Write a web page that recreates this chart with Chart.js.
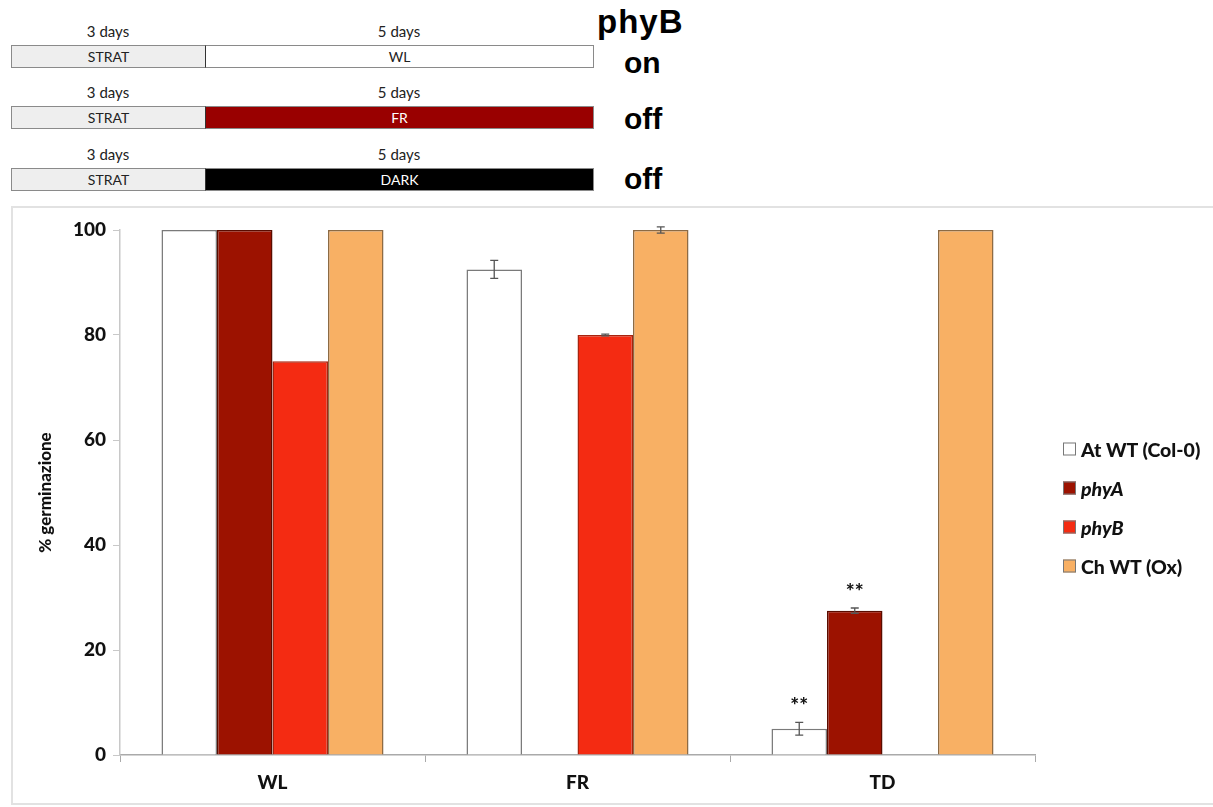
<!DOCTYPE html><html lang="it">
<head>
  <meta charset="UTF-8"/>
  <title>% germinazione</title>
  <script src="https://cdn.jsdelivr.net/npm/chart.js"></script>
  <style>
    *{box-sizing:border-box;margin:0;padding:0}
    body{background:#fff;width:1213px;height:807px;position:relative;overflow:hidden;font-family:Lato,sans-serif}
    .days{position:absolute;font-size:15px;color:#222;transform:translate(-50%,-50%);white-space:nowrap}
    .bar{position:absolute;height:23px;border:1px solid #8a8a8a;font-size:14px;line-height:21px;text-align:center;color:#222}
    .phy{position:absolute;font-family:'Liberation Sans',Arial,sans-serif;font-weight:700;color:#000;transform:translateY(-50%);white-space:nowrap}
    #frame{position:absolute;left:11px;top:206px;width:1210px;height:599px;border:2px solid #e2e2e2}
    #wrap{position:absolute;left:13px;top:208px;width:1199px;height:595px}
    #legend .item{position:absolute;left:1063px;transform:translateY(-50%);display:flex;align-items:center;font-weight:900;font-size:19.5px;color:#111;white-space:nowrap}
    #legend .sw{width:13px;height:13px;border:1.5px solid #777;margin-right:5px}
  </style>
</head>
<body>
  <div id="timeline"></div>
  <div id="frame"></div>
  <div id="wrap"><canvas id="chart"></canvas></div>
  <div id="legend"></div>
  <script>
    // schematic on top
    const tlTreatments = ['WL','FR','DARK'];
    const tlColors = ['#ffffff','#990000','#000000'];
    const tlText = ['#222','#fff','#fff'];
    const phyBState = ['on','off','off'];
    const tlDurations = ['3 days','5 days'];

    // chart data
    const categories = ['WL','FR','TD'];
    const seriesNames = ['At WT (Col-0)','phyA','phyB','Ch WT (Ox)'];
    const seriesItalic = [false,true,true,false];
    const seriesColors = ['#ffffff','#9c1200','#f42b12','#f8b064'];
    const seriesBorders = ['#7a7a7a','#5a0c00','#a8240f','#8c6a44'];
    const atWT = [100, 92.5, 5];
    const phyA = [100, 0, 27.5];
    const phyB = [75, 80, 0];
    const chWT = [100, 100, 100];
    const atWTErr = [0, 1.7, 1.2];
    const phyAErr = [0, 0, 0.5];
    const phyBErr = [0, 0.15, 0];
    const chWTErr = [0, 0.6, 0];
    const atWTSig = ['', '', '**'];
    const phyASig = ['', '', '**'];
    const phyBSig = ['', '', ''];
    const chWTSig = ['', '', ''];
    const yTicks = [0, 20, 40, 60, 80, 100];

    // build timeline
    const tl = document.getElementById('timeline');
    tlTreatments.forEach((t,i)=>{
      const barTop = [45,106,168][i];
      const txtY = [31,92,154][i];
      tl.insertAdjacentHTML('beforeend',
        `<div class="days" style="left:108px;top:${txtY}px">${tlDurations[0]}</div>`+
        `<div class="days" style="left:399px;top:${txtY}px">${tlDurations[1]}</div>`+
        `<div class="bar" style="left:11px;top:${barTop}px;width:195px;background:#eeeeee">STRAT</div>`+
        `<div class="bar" style="left:205px;top:${barTop}px;width:389px;background:${tlColors[i]};color:${tlText[i]};border-left-color:#333">${t}</div>`+
        `<div class="phy" style="left:624px;top:${[63,119,179][i]}px;font-size:30px">${phyBState[i]}</div>`);
    });
    tl.insertAdjacentHTML('beforeend','<div class="phy" style="left:597px;top:22px;font-size:33px;letter-spacing:1px">phyB</div>');

    // legend
    const leg = document.getElementById('legend');
    seriesNames.forEach((n,i)=>{
      leg.insertAdjacentHTML('beforeend',
        `<div class="item" style="top:${449+i*39}px"><span class="sw" style="background:${seriesColors[i]}"></span><span style="font-style:${seriesItalic[i]?'italic':'normal'}">${n}</span></div>`);
    });

    const seriesData = [atWT, phyA, phyB, chWT];
    const seriesErr = [atWTErr, phyAErr, phyBErr, chWTErr];
    const seriesSig = [atWTSig, phyASig, phyBSig, chWTSig];

    // error bars + significance stars
    const errorBars = {
      id:'errorBars',
      afterDatasetsDraw(chart){
        const ctx = chart.ctx, y = chart.scales.y;
        chart.data.datasets.forEach((ds,i)=>{
          const meta = chart.getDatasetMeta(i);
          meta.data.forEach((bar,j)=>{
            const v = ds.data[j], e = seriesErr[i][j];
            let top = y.getPixelForValue(v);
            if(e>0){
              const y1 = y.getPixelForValue(v+e), y2 = y.getPixelForValue(v-e);
              top = y1;
              ctx.save();
              ctx.strokeStyle = '#555'; ctx.lineWidth = 1.3;
              ctx.beginPath();
              ctx.moveTo(bar.x,y1); ctx.lineTo(bar.x,y2);
              ctx.moveTo(bar.x-4,y1); ctx.lineTo(bar.x+4,y1);
              ctx.moveTo(bar.x-4,y2); ctx.lineTo(bar.x+4,y2);
              ctx.stroke();
              ctx.restore();
            }
            const s = seriesSig[i][j];
            if(s){
              ctx.save();
              ctx.font = '900 21px Lato';
              ctx.fillStyle = '#111';
              ctx.textAlign = 'center'; ctx.textBaseline = 'middle';
              ctx.fillText(s, bar.x, top-16);
              ctx.restore();
            }
          });
        });
      }
    };

    new Chart(document.getElementById('chart'),{
      type:'bar',
      data:{
        labels:categories,
        datasets:seriesNames.map((n,i)=>({
          label:n, data:seriesData[i],
          backgroundColor:seriesColors[i], borderColor:seriesBorders[i], borderWidth:1.5,
          borderSkipped:'bottom',
          categoryPercentage:0.728, barPercentage:1.0
        }))
      },
      options:{
        responsive:true, maintainAspectRatio:false, animation:false,
        layout:{padding:{left:0,top:22,right:177,bottom:0}},
        plugins:{legend:{display:false},tooltip:{enabled:false}},
        scales:{
          x:{
            grid:{offset:true,drawOnChartArea:false,drawTicks:true,tickLength:7,color:'#aaa'},
            border:{color:'#aaa',width:1.5},
            ticks:{font:{family:'Lato',weight:'900',size:19},color:'#111',padding:9},
            afterFit(s){ s.height = 48; }
          },
          y:{
            min:0, max:100,
            afterBuildTicks(s){ s.ticks = yTicks.map(v=>({value:v})); },
            grid:{drawOnChartArea:false,drawTicks:true,tickLength:7,color:'#c8c8c8'},
            border:{color:'#c8c8c8',width:1.5},
            ticks:{font:{family:'Lato',weight:'900',size:19},color:'#111',padding:7},
            title:{display:true,text:'% germinazione',font:{family:'Lato',weight:'900',size:17},color:'#111',padding:{top:22,bottom:0}},
            afterFit(s){ s.width = 107; }
          }
        }
      },
      plugins:[errorBars]
    });
  </script>
</body>
</html>
